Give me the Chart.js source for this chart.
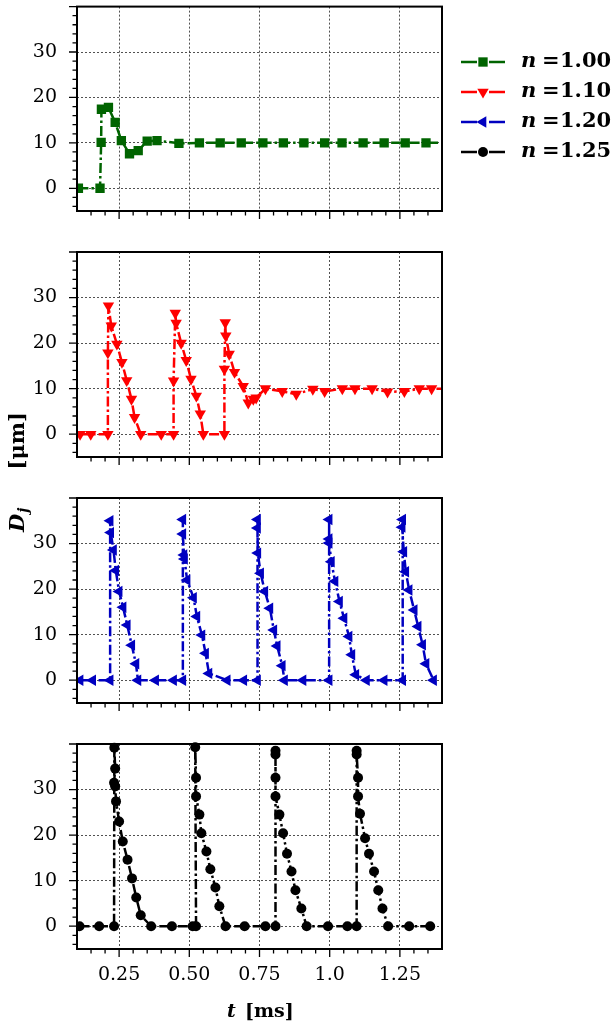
<!DOCTYPE html>
<html>
<head>
<meta charset="utf-8">
<script src="https://cdn.jsdelivr.net/npm/chart.js@4.4.1/dist/chart.umd.min.js"></script>
<style>
  body { margin: 0; background: #fff; }
  #fig { position: relative; width: 614px; height: 1023px; }
  #fig canvas { position: absolute; left: 0; top: 0; }
</style>
</head>
<body>
<div id="fig">
  <canvas id="p0" width="614" height="1023"></canvas>
  <canvas id="p1" width="614" height="1023"></canvas>
  <canvas id="p2" width="614" height="1023"></canvas>
  <canvas id="p3" width="614" height="1023"></canvas>
</div>
<script>
// jet diameter D_j [um] against time t [ms], one panel per n
const tN100 = [0.105, 0.182, 0.186, 0.187, 0.212, 0.236, 0.258, 0.287, 0.318, 0.350, 0.385, 0.463, 0.536, 0.610, 0.685, 0.762, 0.835, 0.908, 0.982, 1.044, 1.119, 1.194, 1.269, 1.343, 1.42];
const dN100 = [0, 0, 10.1, 17.4, 17.8, 14.5, 10.5, 7.6, 8.3, 10.4, 10.5, 9.9, 10, 10, 10, 10, 10, 10, 10, 10, 10, 10, 10, 10, 10];

const tN110 = [0.111, 0.149, 0.210, 0.210, 0.212, 0.222, 0.242, 0.260, 0.277, 0.294, 0.305, 0.327,
  0.400, 0.444, 0.444, 0.450, 0.453, 0.471, 0.489, 0.506, 0.525, 0.539, 0.550,
  0.625, 0.625, 0.628, 0.630, 0.642, 0.661, 0.692, 0.710, 0.728, 0.738, 0.771, 0.831, 0.881,
  0.940, 0.982, 1.045, 1.090, 1.151, 1.206, 1.266, 1.319, 1.363, 1.42];
const dN110 = [0, 0, 0, 17.9, 28.2, 23.8, 19.8, 15.8, 11.8, 7.7, 3.7, 0,
  0, 0, 11.7, 26.6, 24.4, 20.0, 16.2, 12.1, 8.4, 4.5, 0,
  0, 14.3, 24.5, 21.6, 17.6, 13.6, 10.5, 6.9, 7.7, 8.0, 10.0, 9.4, 8.8,
  9.9, 9.4, 10, 10, 10, 9.3, 9.4, 10, 10, 10];

const tN120 = [0.111, 0.156, 0.218, 0.218, 0.220, 0.230, 0.238, 0.250, 0.264, 0.279, 0.295, 0.310, 0.317, 0.380,
  0.444, 0.477, 0.477, 0.477, 0.481, 0.483, 0.492, 0.515, 0.527, 0.545, 0.558, 0.570, 0.635, 0.694,
  0.743, 0.743, 0.743, 0.744, 0.754, 0.769, 0.787, 0.801, 0.813, 0.831, 0.839, 0.905,
  0.998, 0.998, 0.998, 0.998, 1.006, 1.019, 1.035, 1.051, 1.069, 1.079, 1.093, 1.131, 1.194,
  1.260, 1.260, 1.258, 1.264, 1.271, 1.283, 1.301, 1.315, 1.331, 1.343, 1.370];
const dN120 = [0, 0, 0, 35.0, 32.4, 28.6, 24.1, 19.5, 16.0, 12.1, 7.7, 3.6, 0, 0,
  0, 0, 35.3, 32.1, 27.5, 26.6, 22.0, 18.1, 14.0, 9.9, 5.9, 1.5, 0, 0,
  0, 35.3, 33.4, 27.9, 23.5, 19.5, 15.8, 11.0, 7.5, 3.2, 0, 0,
  0, 35.3, 31.0, 30.1, 26.0, 21.7, 17.3, 13.6, 9.6, 5.6, 1.2, 0, 0,
  0, 35.3, 33.6, 28.2, 23.8, 19.8, 15.4, 11.8, 7.8, 3.6, 0];

const tN125 = [0.109, 0.179, 0.232, 0.233, 0.236, 0.232, 0.236, 0.239, 0.250, 0.263, 0.280, 0.296, 0.311, 0.327, 0.364, 0.438,
  0.512, 0.524, 0.521, 0.524, 0.524, 0.536, 0.543, 0.561, 0.575, 0.593, 0.607, 0.629, 0.697,
  0.771, 0.807, 0.807, 0.807, 0.807, 0.807, 0.821, 0.834, 0.848, 0.864, 0.878, 0.899, 0.918, 0.994,
  1.063, 1.096, 1.096, 1.096, 1.101, 1.101, 1.108, 1.126, 1.140, 1.158, 1.173, 1.188, 1.208, 1.283, 1.358];
const dN125 = [0, 0, 0, 39.2, 34.6, 31.5, 30.7, 27.4, 23.0, 18.6, 14.6, 10.5, 6.3, 2.4, 0, 0,
  0, 0, 39.3, 32.6, 28.5, 24.5, 20.4, 16.4, 12.5, 8.5, 4.4, 0, 0,
  0, 0, 38.5, 37.7, 32.6, 28.5, 24.5, 20.4, 15.9, 12.0, 7.9, 3.9, 0, 0,
  0, 0, 38.5, 37.7, 32.6, 28.5, 24.7, 19.3, 15.9, 12.0, 7.9, 3.9, 0, 0, 0];

const seriesN = ['1.00', '1.10', '1.20', '1.25'];
const seriesColors = ['#006400', '#ff0000', '#0000c0', '#000000'];
const seriesMarkers = ['rect', 'triangle', 'triangle', 'circle'];
const markerRotation = [0, 180, 270, 0];
const markerRadius = [6.6, 6.6, 6.6, 5];

const xMajor = [0.25, 0.5, 0.75, 1.0, 1.25];
const xTickLabels = ['0.25', '0.50', '0.75', '1.0', '1.25'];
const yMajor = [0, 10, 20, 30];
const yTickLabels = ['0', '10', '20', '30'];

const W = 614, H = 1023;
const panelTops = [6, 252, 498, 744];
const panelH = 205;
const axLeft = 77, axRight = 442;
const serif = '"DejaVu Serif", serif';
const dashDot = [10, 3, 2.5, 3];

const xy = (ts, ds) => ts.map((t, i) => ({ x: t, y: ds[i] }));
const series = [xy(tN100, dN100), xy(tN110, dN110), xy(tN120, dN120), xy(tN125, dN125)];

function drawMarker(ctx, k, x, y) {
  const r = markerRadius[k];
  ctx.save();
  ctx.translate(x, y);
  ctx.rotate(markerRotation[k] * Math.PI / 180);
  ctx.fillStyle = seriesColors[k];
  ctx.beginPath();
  if (seriesMarkers[k] === 'rect') {
    const s = r * Math.SQRT1_2;
    ctx.rect(-s, -s, 2 * s, 2 * s);
  } else if (seriesMarkers[k] === 'triangle') {
    for (let j = 0; j < 3; j++) {
      const a = j * 2 * Math.PI / 3;
      ctx[j ? 'lineTo' : 'moveTo'](Math.sin(a) * r, -Math.cos(a) * r);
    }
    ctx.closePath();
  } else {
    ctx.arc(0, 0, r, 0, 2 * Math.PI);
  }
  ctx.fill();
  ctx.restore();
}

// outward major/minor ticks and the box around each panel
const frame = {
  id: 'frame',
  afterDraw(chart) {
    const { ctx, chartArea: a, scales: { x, y } } = chart;
    ctx.save();
    ctx.strokeStyle = '#000';
    ctx.lineWidth = 1.3;
    ctx.beginPath();
    for (let v = -4; v <= 40; v += 2) {
      const py = y.getPixelForValue(v);
      const len = v % 10 === 0 ? 8 : 4.5;
      ctx.moveTo(a.left - len, py);
      ctx.lineTo(a.left, py);
    }
    for (let k = 3; k <= 27; k++) {
      const px = x.getPixelForValue(k * 0.05);
      const len = k % 5 === 0 ? 8 : 4.5;
      ctx.moveTo(px, a.bottom);
      ctx.lineTo(px, a.bottom + len);
    }
    ctx.stroke();
    ctx.lineWidth = 2;
    ctx.strokeRect(a.left, a.top, a.right - a.left, a.bottom - a.top);
    ctx.restore();
  }
};

const legendBox = {
  id: 'legendBox',
  afterDraw(chart) {
    const ctx = chart.ctx;
    ctx.save();
    seriesN.forEach((n, k) => {
      const y = 62 + k * 30;
      ctx.strokeStyle = seriesColors[k];
      ctx.lineWidth = 2.5;
      ctx.beginPath();
      ctx.moveTo(461, y); ctx.lineTo(477, y);
      ctx.moveTo(489, y); ctx.lineTo(505, y);
      ctx.stroke();
      drawMarker(ctx, k, 483, y);
      ctx.fillStyle = '#000';
      ctx.textBaseline = 'middle';
      ctx.font = 'italic bold 21px ' + serif;
      ctx.fillText('n', 521, y);
      ctx.font = 'bold 21px ' + serif;
      ctx.fillText('=', 542, y);
      ctx.fillText(n, 560, y);
    });
    ctx.restore();
  }
};

const axisTitles = {
  id: 'axisTitles',
  afterDraw(chart) {
    const ctx = chart.ctx;
    ctx.save();
    ctx.fillStyle = '#000';
    ctx.textBaseline = 'alphabetic';
    // x title
    ctx.font = 'italic bold 19px ' + serif;
    ctx.fillText('t', 227, 1017);
    ctx.font = 'bold 19px ' + serif;
    ctx.fillText('[ms]', 245, 1017);
    // y title, rotated
    ctx.translate(24, 532);
    ctx.rotate(-Math.PI / 2);
    ctx.font = 'italic bold 21px ' + serif;
    ctx.fillText('D', 0, 0);
    const dw = ctx.measureText('D').width;
    ctx.font = 'italic bold 14px ' + serif;
    ctx.fillText('j', dw + 1, 4);
    ctx.font = 'bold 21px ' + serif;
    ctx.textAlign = 'right';
    ctx.fillText('[\u03bcm]', 120, 0);
    ctx.restore();
  }
};

function makePanel(i) {
  const last = i === 3;
  const xBox = last ? H - panelTops[i] - panelH : 0;
  const plugins = [frame];
  if (i === 0) plugins.push(legendBox);
  if (last) plugins.push(axisTitles);
  return new Chart(document.getElementById('p' + i), {
    type: 'line',
    data: {
      datasets: [{
        label: 'n = ' + seriesN[i],
        data: series[i],
        borderColor: seriesColors[i],
        backgroundColor: seriesColors[i],
        borderWidth: 2.5,
        borderDash: dashDot,
        pointStyle: seriesMarkers[i],
        pointRotation: markerRotation[i],
        pointRadius: markerRadius[i],
        pointBorderWidth: 0,
        pointBackgroundColor: seriesColors[i],
        tension: 0,
        clip: { left: 0, right: 0, top: 5, bottom: 5 }
      }]
    },
    options: {
      responsive: false,
      animation: false,
      devicePixelRatio: 1,
      events: [],
      layout: {
        padding: { top: panelTops[i], left: 0, right: W - axRight, bottom: H - panelTops[i] - panelH - xBox }
      },
      plugins: { legend: { display: false }, tooltip: { enabled: false } },
      scales: {
        x: {
          type: 'linear',
          min: 0.1,
          max: 1.4,
          bounds: 'data',
          afterBuildTicks: s => { s.ticks = xMajor.map(v => ({ value: v })); },
          afterFit: s => { s.height = xBox; s.paddingLeft = 0; s.paddingRight = 0; },
          ticks: {
            display: last,
            padding: 15,
            color: '#000',
            font: { family: serif, size: 19 },
            maxRotation: 0,
            callback: v => xTickLabels[xMajor.indexOf(v)]
          },
          grid: { color: 'rgba(40,40,40,0.9)', lineWidth: 0.9, drawTicks: false },
          border: { display: false, dash: [2, 2] }
        },
        y: {
          type: 'linear',
          min: -5,
          max: 40,
          bounds: 'data',
          afterBuildTicks: s => { s.ticks = yMajor.map(v => ({ value: v })); },
          afterFit: s => { s.width = axLeft; s.paddingTop = 0; s.paddingBottom = 0; },
          ticks: {
            padding: 20,
            color: '#000',
            font: { family: serif, size: 19 },
            callback: v => yTickLabels[yMajor.indexOf(v)]
          },
          grid: { color: 'rgba(40,40,40,0.9)', lineWidth: 0.9, drawTicks: false },
          border: { display: false, dash: [2, 2] }
        }
      }
    },
    plugins
  });
}

[0, 1, 2, 3].forEach(makePanel);
</script>
</body>
</html>
